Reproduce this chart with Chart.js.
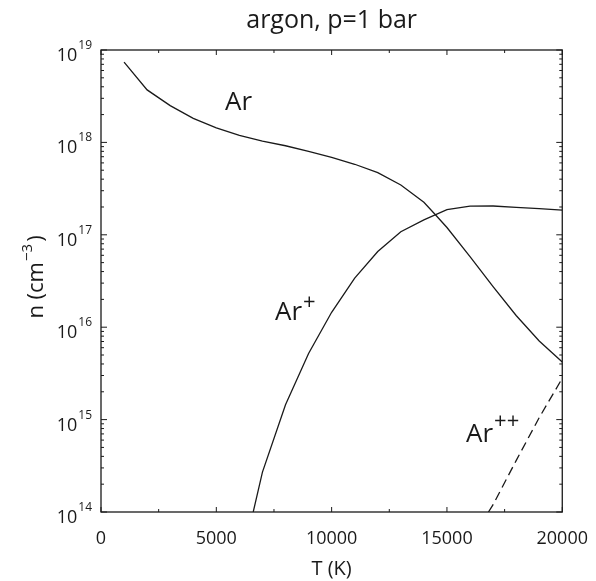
<!DOCTYPE html>
<html>
<head>
<meta charset="utf-8">
<script src="https://cdn.jsdelivr.net/npm/chart.js@4.4.0/dist/chart.umd.min.js"></script>
<style>
  html, body { margin: 0; padding: 0; background: #fff; }
  #wrap { width: 596px; height: 581px; }
</style>
</head>
<body>
<div id="wrap"><canvas id="chart"></canvas></div>
<script>
// temperatures (K) and number densities (cm^-3)
const arT = [1000, 2000, 3000, 4000, 5000, 6000, 7000, 8000, 9000, 10000, 11000, 12000, 13000, 14000, 14500, 15000, 16000, 17000, 18000, 19000, 20000];
const arN = [7.4e18, 3.7e18, 2.5e18, 1.82e18, 1.44e18, 1.19e18, 1.03e18, 9.2e17, 8.0e17, 6.9e17, 5.8e17, 4.7e17, 3.46e17, 2.25e17, 1.65e17, 1.2e17, 5.8e16, 2.75e16, 1.34e16, 7.1e15, 4.2e15];

const arPlusT = [6600, 7000, 8000, 9000, 10000, 11000, 12000, 13000, 14000, 15000, 16000, 17000, 18000, 19000, 20000];
const arPlusN = [1e14, 2.7e14, 1.45e15, 5.2e15, 1.45e16, 3.4e16, 6.6e16, 1.08e17, 1.45e17, 1.87e17, 2.04e17, 2.05e17, 1.98e17, 1.92e17, 1.85e17];

const arPPT = [16800, 17000, 18000, 19000, 20000];
const arPPN = [1e14, 1.2e14, 3.6e14, 1.05e15, 2.8e15];

const xTicks = [0, 5000, 10000, 15000, 20000];
const decades = [14, 15, 16, 17, 18, 19];

const FONT = "'Open Sans', 'DejaVu Sans', sans-serif";
const INK = '#1a1a1a';

function pts(xs, ys) {
    return xs.map((x, i) => ({ x: x, y: ys[i] }));
}

// text with a raised exponent; returns total width
function supText(ctx, base, sup, x, y, size, supSize, rise, align, gap) {
    gap = gap || 1;
    ctx.font = size + 'px ' + FONT;
    const wb = ctx.measureText(base).width;
    ctx.font = supSize + 'px ' + FONT;
    const ws = ctx.measureText(sup).width;
    let x0 = x;
    if (align === 'right') x0 = x - wb - gap - ws;
    if (align === 'center') x0 = x - (wb + gap + ws) / 2;
    ctx.textAlign = 'left';
    ctx.textBaseline = 'alphabetic';
    ctx.font = size + 'px ' + FONT;
    ctx.fillText(base, x0, y);
    ctx.font = supSize + 'px ' + FONT;
    ctx.fillText(sup, x0 + wb + gap, y - rise);
    return { x0: x0, w: wb + gap + ws };
}

const decor = {
    id: 'decor',
    afterDraw(chart) {
        const ctx = chart.ctx;
        const a = chart.chartArea;
        const xs = chart.scales.x, ys = chart.scales.y;
        ctx.save();
        ctx.strokeStyle = INK;
        ctx.fillStyle = INK;

        // frame
        ctx.lineWidth = 1.3;
        ctx.strokeRect(a.left, a.top, a.right - a.left, a.bottom - a.top);

        // x ticks, inward, top and bottom
        ctx.lineWidth = 1;
        for (let t = 0; t <= 20000; t += 2500) {
            const px = xs.getPixelForValue(t);
            const len = t % 5000 === 0 ? 5 : 3;
            ctx.beginPath();
            ctx.moveTo(px, a.bottom); ctx.lineTo(px, a.bottom - len);
            ctx.moveTo(px, a.top); ctx.lineTo(px, a.top + len);
            ctx.stroke();
        }
        // y ticks, log, left and right
        for (let d = 14; d <= 19; d++) {
            for (let m = 1; m <= 9; m++) {
                if (d === 19 && m > 1) break;
                const py = ys.getPixelForValue(m * Math.pow(10, d));
                const len = m === 1 ? 6 : 3;
                ctx.beginPath();
                ctx.moveTo(a.left, py); ctx.lineTo(a.left + len, py);
                ctx.moveTo(a.right, py); ctx.lineTo(a.right - len, py);
                ctx.stroke();
            }
        }

        // y tick labels 10^n
        decades.forEach(d => {
            const py = ys.getPixelForValue(Math.pow(10, d));
            supText(ctx, '10', String(d), 92, py + 11, 18, 12, 12, 'right', 1);
        });

        // title
        ctx.font = '25px ' + FONT;
        ctx.textAlign = 'center';
        ctx.textBaseline = 'alphabetic';
        ctx.fillText('argon, p=1 bar', (a.left + a.right) / 2, 28);

        // y axis title
        ctx.save();
        ctx.translate(43, (a.top + a.bottom) / 2 - 3);
        ctx.rotate(-Math.PI / 2);
        ctx.font = '22px ' + FONT;
        const closeW = ctx.measureText(')').width;
        const r = supText(ctx, 'n (cm', '\u22123', -closeW / 2, 0, 22, 15, 11, 'center', 1);
        ctx.font = '22px ' + FONT;
        ctx.fillText(')', r.x0 + r.w + 2, 0);
        ctx.restore();

        // curve labels
        ctx.font = '26px ' + FONT;
        ctx.textAlign = 'left';
        ctx.fillText('Ar', 225, 110);
        supText(ctx, 'Ar', '+', 275, 320, 26, 22, 11, 'left', 0);
        supText(ctx, 'Ar', '++', 466, 442, 26, 22, 14, 'left', 0);

        ctx.restore();
    }
};

const line = (data, dash) => ({
    data: data,
    borderColor: INK,
    borderWidth: 1.3,
    borderDash: dash,
    pointRadius: 0,
    tension: 0,
    fill: false
});

new Chart(document.getElementById('chart'), {
    type: 'line',
    data: {
        datasets: [
            line(pts(arT, arN), []),
            line(pts(arPlusT, arPlusN), []),
            line(pts(arPPT, arPPN), [9, 5])
        ]
    },
    options: {
        responsive: true,
        maintainAspectRatio: false,
        animation: false,
        layout: { padding: { top: 50, right: 32, left: 0, bottom: 0 } },
        plugins: {
            legend: { display: false },
            tooltip: { enabled: false }
        },
        scales: {
            x: {
                type: 'linear',
                min: 0,
                max: 20000,
                afterBuildTicks: s => { s.ticks = xTicks.map(v => ({ value: v })); },
                afterFit: s => { s.height = 69; },
                grid: { display: false },
                border: { display: false },
                ticks: {
                    color: INK,
                    font: { family: FONT, size: 18 },
                    padding: 8,
                    maxRotation: 0,
                    callback: v => String(v)
                },
                title: {
                    display: true,
                    text: 'T (K)',
                    color: INK,
                    font: { family: FONT, size: 20 },
                    padding: { top: 6, bottom: 0 }
                }
            },
            y: {
                type: 'logarithmic',
                min: 1e14,
                max: 1e19,
                afterFit: s => { s.width = 101; },
                grid: { display: false },
                border: { display: false },
                ticks: { display: false }
            }
        }
    },
    plugins: [decor]
});
</script>
</body>
</html>
